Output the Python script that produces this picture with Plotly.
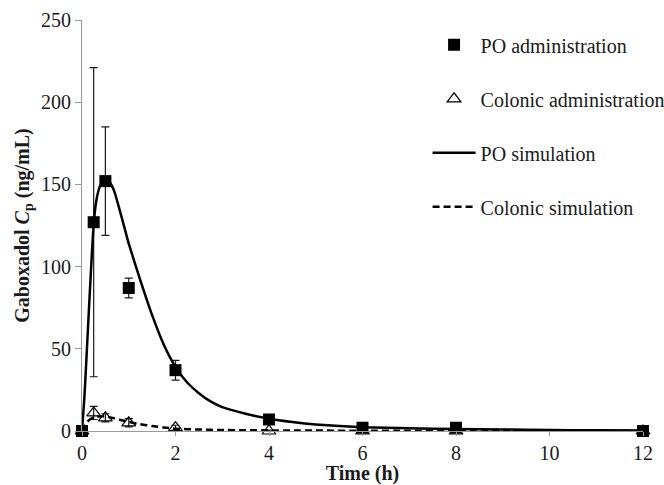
import plotly.graph_objects as go

# Observed data
time_obs = [0, 0.25, 0.5, 1, 2, 4, 6, 8, 12]
po_mean = [0, 127, 152, 87, 37, 7, 2, 2, 0]
po_err = [0, 94, 33, 6, 6, 2, 1, 1.5, 0]
col_mean = [0, 11, 8, 5, 2, 0, 0, 0, 0]
col_err = [0, 4, 2.5, 2.5, 1.5, 0.5, 0.3, 0.3, 0]

# Simulations
time_sim = [0, 0.05, 0.1, 0.15, 0.2, 0.25, 0.3, 0.35, 0.4, 0.45, 0.5, 0.55, 0.6,
            0.65, 0.7, 0.8, 0.9, 1.0, 1.25, 1.5, 1.75, 2.0, 2.25, 2.5, 2.75, 3.0,
            3.5, 4, 4.5, 5, 6, 7, 8, 9, 10, 11, 12]
po_sim = [0, 20, 47, 75, 102, 126, 139, 146, 150, 152.5, 153, 152.5, 151,
          148.5, 145, 135, 124.5, 114, 91.5, 70.5, 52.5, 39, 29.5, 23, 18, 14.5,
          10.5, 7.5, 5.5, 4, 2.3, 1.6, 1.2, 0.9, 0.6, 0.45, 0.3]
col_sim = [0, 2.5, 5, 6.6, 7.6, 8.2, 8.6, 8.8, 8.9, 8.9, 8.8, 8.6, 8.3,
           8.0, 7.6, 6.9, 6.2, 5.5, 4.1, 3.0, 2.1, 1.4, 1.1, 0.9, 0.7, 0.6,
           0.45, 0.35, 0.3, 0.25, 0.18, 0.12, 0.08, 0.06, 0.05, 0.04, 0.03]

FONT = "Liberation Serif, Times New Roman, serif"
INK = "#1a1a1a"
FS = 20

fig = go.Figure()
fig.add_trace(go.Scatter(
    x=time_obs, y=po_mean, mode="markers", name="PO administration",
    marker=dict(symbol="square", size=12, color="black"),
    error_y=dict(type="data", array=po_err, color=INK, thickness=1.2, width=4),
    cliponaxis=False, legendgroup="a"))
fig.add_trace(go.Scatter(
    x=time_obs, y=col_mean, mode="markers", name="Colonic administration",
    marker=dict(symbol="triangle-up-open", size=12, color="black", line=dict(width=1.2)),
    error_y=dict(type="data", array=col_err, color=INK, thickness=1.2, width=4),
    cliponaxis=False, legendgroup="b"))
fig.add_trace(go.Scatter(
    x=time_sim, y=po_sim, mode="lines", name="PO simulation",
    line=dict(color="black", width=2.5, shape="spline", smoothing=0.5),
    cliponaxis=False, legendgroup="c"))
fig.add_trace(go.Scatter(
    x=time_sim, y=col_sim, mode="lines", name="Colonic simulation",
    line=dict(color="black", width=2.5, dash="7px,4px", shape="spline", smoothing=0.5),
    cliponaxis=False, legendgroup="d"))

fig.update_layout(
    width=664, height=485,
    margin=dict(l=82, r=21, t=20, b=54, autoexpand=False),
    paper_bgcolor="white", plot_bgcolor="white",
    font=dict(family=FONT, size=FS, color=INK),
    showlegend=True,
    legend=dict(x=0.616, y=0.987, xanchor="left", yanchor="top",
                bgcolor="rgba(0,0,0,0)", itemwidth=43,
                traceorder="grouped", tracegroupgap=25,
                font=dict(family=FONT, size=FS, color=INK)),
    xaxis=dict(range=[0, 12], tickvals=[0, 2, 4, 6, 8, 10, 12],
               showgrid=False, zeroline=False, showline=True,
               linecolor="#999", linewidth=1, ticks="outside", ticklen=4,
               tickcolor="#999", tickfont=dict(family=FONT, size=FS, color=INK),
               automargin=False,
               title=dict(text="<b>Time (h)</b>", standoff=0,
                          font=dict(family=FONT, size=FS, color=INK))),
    yaxis=dict(range=[0, 250], tickvals=[0, 50, 100, 150, 200, 250],
               showgrid=False, zeroline=False, showline=True,
               linecolor="#999", linewidth=1, ticks="outside", ticklen=6,
               tickcolor="#999", tickfont=dict(family=FONT, size=FS, color=INK),
               automargin=False,
               title=dict(text="<b>Gaboxadol <i>C</i><sub>p</sub> (ng/mL)</b>",
                          standoff=6,
                          font=dict(family=FONT, size=FS, color=INK))),
)

fig.write_html("out.html")
